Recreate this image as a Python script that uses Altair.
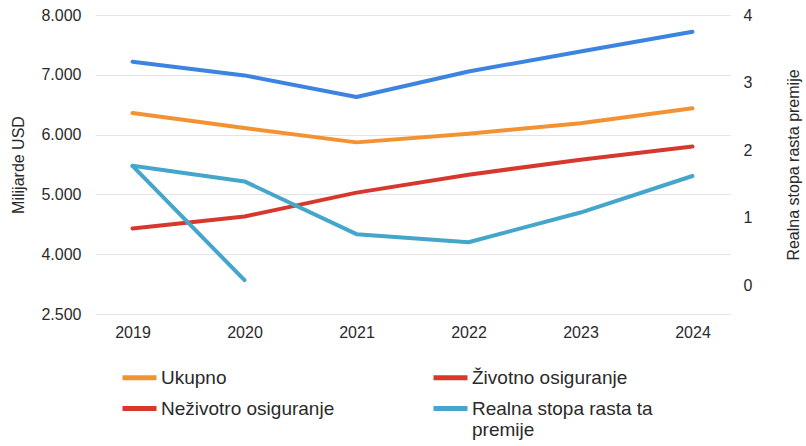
import altair as alt
import pandas as pd

# Years on the horizontal axis
godine = [2019, 2020, 2021, 2022, 2023, 2024]

# Premiums, billions of USD (left axis)
ukupno = [6360, 6110, 5870, 6015, 6190, 6440]
zivotno = [4430, 4630, 5030, 5330, 5580, 5800]
nezivotno = [7220, 6990, 6630, 7055, 7390, 7720]

# Real premium growth rate (right axis)
realna_stopa = [1.77, 1.54, 0.76, 0.64, 1.08, 1.62]
realna_stopa_2_godine = [2019, 2020]
realna_stopa_2 = [1.77, 0.08]

serije = ["Ukupno", "Životno osiguranje", "Neživotro osiguranje",
          "Realna stopa rasta ta premije"]
boje = ["#F39233", "#D7382E", "#D7382E", "#45A6CC"]
plava = "#3C84E0"

FONT = "Liberation Sans"
TEXT = "#2a2a2a"

levo = pd.DataFrame(
    [{"godina": g, "vrednost": v, "serija": serije[0]} for g, v in zip(godine, ukupno)]
    + [{"godina": g, "vrednost": v, "serija": serije[1]} for g, v in zip(godine, zivotno)]
)
plavo = pd.DataFrame({"godina": godine, "vrednost": nezivotno})
desno = pd.DataFrame(
    [{"godina": g, "stopa": v, "serija": serije[3], "deo": "a"} for g, v in zip(godine, realna_stopa)]
    + [{"godina": g, "stopa": v, "serija": serije[3], "deo": "b"}
       for g, v in zip(realna_stopa_2_godine, realna_stopa_2)]
)

x_enc = alt.X(
    "godina:O",
    scale=alt.Scale(type="point", padding=0.335),
    axis=alt.Axis(title=None, labelAngle=0, labelPadding=10, grid=False),
)

# the long series name wraps onto a second line in the legend
boja = alt.Color(
    "serija:N",
    scale=alt.Scale(domain=serije, range=boje),
    legend=alt.Legend(
        title=None,
        orient="none",
        legendX=25,
        legendY=343,
        direction="horizontal",
        columns=2,
        columnPadding=88,
        rowPadding=1,
        padding=0,
        symbolType="stroke",
        symbolStrokeWidth=5,
        symbolSize=1156,
        labelFontSize=19,
        labelFont=FONT,
        labelColor=TEXT,
        labelOffset=2,
        labelLimit=400,
        labelExpr="datum.label == 'Realna stopa rasta ta premije' ? "
                  "['Realna stopa rasta ta', 'premije'] : datum.label",
    ),
)

y_levo = alt.Y(
    "vrednost:Q",
    scale=alt.Scale(domain=[3000, 8000], nice=False, zero=False),
    axis=alt.Axis(
        values=[3000, 4000, 5000, 6000, 7000, 8000],
        labelExpr="datum.value == 3000 ? '2.500' : replace(format(datum.value, ','), ',', '.')",
        title="Milijarde USD",
        titlePadding=14,
        labelPadding=14,
        grid=True,
        gridColor="#e4e4e4",
        gridWidth=1,
    ),
)

linija = dict(strokeWidth=4, strokeCap="round", strokeJoin="round")

sloj_levo = alt.Chart(levo).mark_line(**linija).encode(
    x=x_enc, y=y_levo, color=boja
)
sloj_plavo = alt.Chart(plavo).mark_line(**linija).encode(
    x=x_enc, y=y_levo, color=alt.value(plava)
)

y_desno = alt.Y(
    "stopa:Q",
    scale=alt.Scale(domain=[-0.42, 4], nice=False, zero=False),
    axis=alt.Axis(
        orient="right",
        values=[0, 1, 2, 3, 4],
        title="Realna stopa rasta premije",
        titleAngle=270,
        titlePadding=50,
        labelPadding=13,
        grid=False,
    ),
)

sloj_desno = alt.Chart(desno).mark_line(**linija).encode(
    x=x_enc, y=y_desno, color=boja, detail="deo:N"
)

chart = (
    alt.layer(alt.layer(sloj_levo, sloj_plavo), sloj_desno)
    .resolve_scale(y="independent")
    .properties(
        width=635,
        height=299,
        autosize=alt.AutoSizeParams(type="none"),
        padding={"left": 95, "top": 15, "right": 76, "bottom": 132},
        background="white",
    )
    .configure_view(stroke=None)
    .configure_axis(
        domain=False,
        ticks=False,
        labelFont=FONT,
        labelFontSize=16,
        labelColor=TEXT,
        titleFont=FONT,
        titleFontSize=16,
        titleFontWeight="normal",
        titleColor=TEXT,
    )
)

chart.save("out.html", embed_options={"renderer": "svg", "actions": False})
